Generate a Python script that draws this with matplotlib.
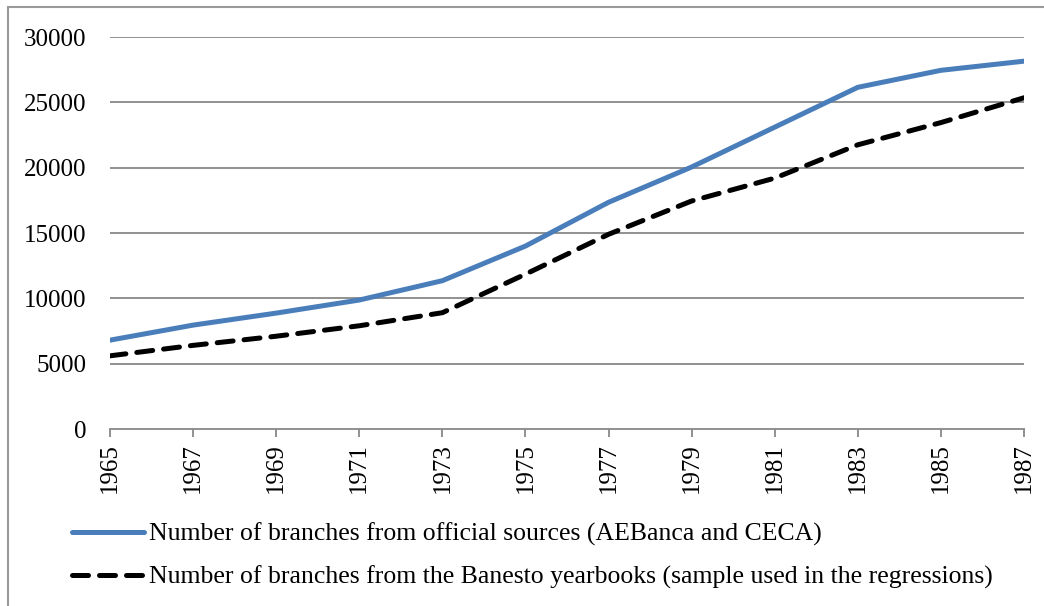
import matplotlib
matplotlib.use("Agg")
import matplotlib.pyplot as plt
from matplotlib.patches import Rectangle

years = [1965, 1967, 1969, 1971, 1973, 1975, 1977, 1979, 1981, 1983, 1985, 1987]
official = [6800, 7950, 8870, 9870, 11350, 14000, 17350, 20050, 23100, 26150, 27450, 28150]
banesto = [5600, 6400, 7100, 7900, 8900, 11850, 14900, 17450, 19200, 21750, 23450, 25350]
yticks = [0, 5000, 10000, 15000, 20000, 25000, 30000]
label_official = "Number of branches from official sources (AEBanca and CECA)"
label_banesto = "Number of branches from the Banesto yearbooks (sample used in the regressions)"

plt.rcParams['font.family'] = ['Liberation Serif', 'DejaVu Serif']

fig = plt.figure(figsize=(10.44, 6.06), dpi=100)
ax = fig.add_axes([110/1044, 1-429/606, (1024-110)/1044, (429-37)/606])

grid_c = '#888888'
for v in yticks[1:]:
    ax.axhline(v, color=grid_c, lw=1.3, zorder=1)

l1, = ax.plot(years, official, color='#4a7ebb', lw=3.6, solid_capstyle='round', zorder=3,
              label=label_official)
l2, = ax.plot(years, banesto, color='black', lw=3.6, dashes=(3.2, 2.2), dash_capstyle='round',
              zorder=3, label=label_banesto)

ax.set_xlim(1965, 1987)
ax.set_ylim(0, 30000)
ax.set_xticks(years)
ax.set_xticklabels([str(y) for y in years], rotation=90, fontsize=18)
ax.set_yticks(yticks)
ax.set_yticklabels([str(v) for v in yticks], fontsize=18)
for s in ['top', 'right', 'left']:
    ax.spines[s].set_visible(False)
ax.spines['bottom'].set_color(grid_c)
ax.spines['bottom'].set_linewidth(1.3)
ax.tick_params(axis='y', length=0, pad=17)
ax.tick_params(axis='x', length=6, width=1.3, color=grid_c, pad=4)
ax.set_facecolor('none')

leg = fig.legend(handles=[l1, l2], loc='center left', bbox_to_anchor=(72/1044, 1-556/606),
                 frameon=False, fontsize=18.5, handlelength=2.8, handletextpad=0.2,
                 labelspacing=0.75, borderpad=0, borderaxespad=0)

fig.patches.append(Rectangle((8/1044, -0.05), 1.2, 1-7/606+0.05, transform=fig.transFigure,
                             fill=False, edgecolor='#999999', lw=1.5, zorder=0))

fig.savefig('out.png', dpi=100)
